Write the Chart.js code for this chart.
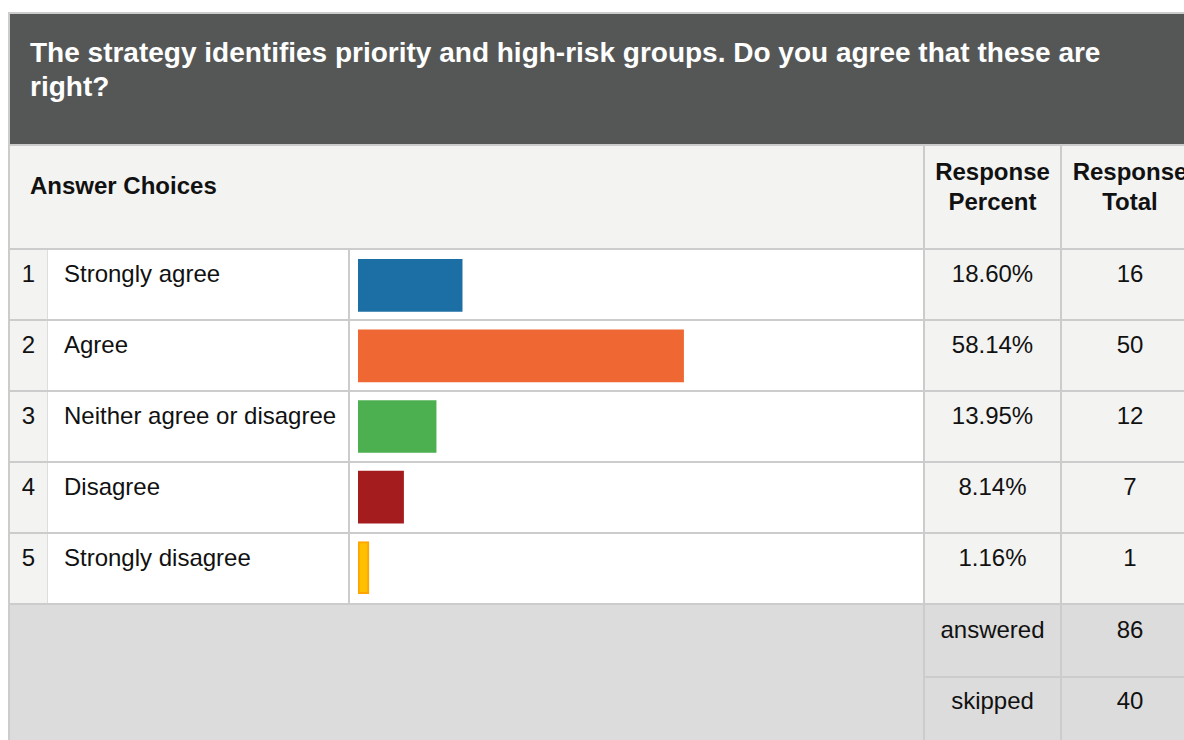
<!DOCTYPE html>
<html>
<head>
<meta charset="utf-8">
<title>Priority and high-risk groups</title>
<script src="https://cdn.jsdelivr.net/npm/chart.js@4.4.0/dist/chart.umd.min.js"></script>
<style>
  body { margin: 0; width: 1184px; height: 740px; overflow: hidden; background: #fff;
         font-family: Arial, "Liberation Sans", sans-serif; color: #111; }
  #page { position: absolute; left: 0; top: 0; width: 1220px; height: 740px; }
  .blk { position: absolute; }
  .line { position: absolute; background: #cccccc; }
  .txt { position: absolute; font-size: 24px; line-height: 28px; white-space: nowrap; }
  .c { text-align: center; }
  .b { font-weight: bold; }
  #title { position: absolute; left: 30px; top: 36px; width: 1120px; color: #fff; font-weight: bold;
           font-size: 28px; line-height: 34px; white-space: normal; }
  #barCell { position: absolute; left: 350px; top: 250px; width: 573px; height: 353px; }
</style>
</head>
<body>
<div id="page">
  <!-- backgrounds -->
  <div class="blk" style="left:10px;top:14px;width:1210px;height:130px;background:#555756"></div>
  <div class="blk" style="left:10px;top:146px;width:1210px;height:102px;background:#f3f3f2"></div>
  <div class="blk" style="left:10px;top:250px;width:38px;height:353px;background:#f3f3f2"></div>
  <div class="blk" style="left:925px;top:250px;width:295px;height:353px;background:#f3f3f2"></div>
  <div class="blk" style="left:10px;top:605px;width:1210px;height:135px;background:#dcdcdc"></div>

  <!-- outer borders and header rules -->
  <div class="line" style="left:8px;top:12px;width:1212px;height:2px"></div>
  <div class="line" style="left:8px;top:12px;width:2px;height:728px"></div>
  <div class="line" style="left:10px;top:144px;width:1210px;height:2px"></div>
  <div class="line" style="left:10px;top:248px;width:1210px;height:2px"></div>

  <!-- column rules -->
  <div class="line" style="left:47px;top:250px;width:1px;height:353px;background:#dddddd"></div>
  <div class="line" style="left:348px;top:250px;width:2px;height:353px"></div>
  <div class="line" style="left:923px;top:146px;width:2px;height:594px"></div>
  <div class="line" style="left:1060px;top:146px;width:2px;height:594px"></div>
  <div class="line" style="left:925px;top:676px;width:295px;height:2px"></div>

  <div id="title">The strategy identifies priority and high-risk groups. Do you agree that these are right?</div>
  <div class="txt b" style="left:30px;top:172px">Answer Choices</div>
  <div class="txt b c" style="left:925px;top:157px;width:135px;line-height:30px">Response<br>Percent</div>
  <div class="txt b c" style="left:1062px;top:157px;width:136px;line-height:30px">Response<br>Total</div>

  <div id="rows"></div>
  <div id="barCell"><canvas id="barChart"></canvas></div>
</div>

<script>
// survey answers
const choices = ['Strongly agree', 'Agree', 'Neither agree or disagree', 'Disagree', 'Strongly disagree'];
const percents = [18.60, 58.14, 13.95, 8.14, 1.16];
const totals = [16, 50, 12, 7, 1];
const summaryLabels = ['answered', 'skipped'];
const summaryValues = [86, 40];

const barColors = ['#1c6fa4', '#ef6833', '#4caf50', '#a51c1f', '#ffc000'];
const barBorders = ['#1c6fa4', '#ef6833', '#4caf50', '#a51c1f', '#ffa500'];

const ROW_TOP = 250, ROW_H = 71;
const rows = document.getElementById('rows');

function addText(txt, left, top, width, cls) {
  const d = document.createElement('div');
  d.className = 'txt ' + (cls || '');
  d.style.left = left + 'px';
  d.style.top = top + 'px';
  if (width) d.style.width = width + 'px';
  d.textContent = txt;
  rows.appendChild(d);
}

function addLine(left, top, width, height) {
  const d = document.createElement('div');
  d.className = 'line';
  d.style.cssText = `left:${left}px;top:${top}px;width:${width}px;height:${height}px`;
  rows.appendChild(d);
}

choices.forEach((name, i) => {
  const top = ROW_TOP + i * ROW_H;
  addText(String(i + 1), 10, top + 10, 37, 'c');
  addText(name, 64, top + 10);
  addText(percents[i].toFixed(2) + '%', 925, top + 10, 135, 'c');
  addText(String(totals[i]), 1062, top + 10, 136, 'c');
  // row rule below each answer
  addLine(10, top + ROW_H - 2, 1210, 2);
});

summaryLabels.forEach((lbl, i) => {
  const top = 616 + i * 71;
  addText(lbl, 925, top, 135, 'c');
  addText(String(summaryValues[i]), 1062, top, 136, 'c');
});

// horizontal bars, one per answer row
new Chart(document.getElementById('barChart'), {
  type: 'bar',
  data: {
    labels: choices,
    datasets: [{
      data: percents,
      backgroundColor: barColors,
      borderColor: barBorders,
      borderWidth: [0, 0, 0, 0, 2],
      borderSkipped: false,
      barThickness: 52,
      minBarLength: 11
    }]
  },
  options: {
    indexAxis: 'y',
    responsive: true,
    maintainAspectRatio: false,
    animation: false,
    layout: { padding: { left: 8, right: 5, top: 0, bottom: 0 } },
    plugins: { legend: { display: false }, tooltip: { enabled: false } },
    scales: {
      x: { display: false, min: 0, max: 100 },
      y: { display: false }
    }
  }
});
</script>
</body>
</html>
